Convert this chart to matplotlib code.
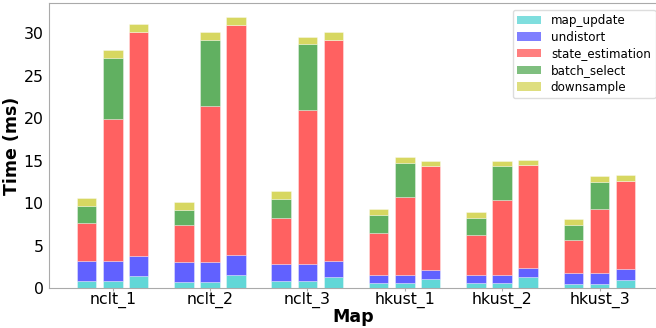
import numpy as np
import matplotlib
matplotlib.use('Agg')
import matplotlib.pyplot as plt
from matplotlib.patches import Patch

maps = ['nclt_1', 'nclt_2', 'nclt_3', 'hkust_1', 'hkust_2', 'hkust_3']
parts = ['map_update', 'undistort', 'state_estimation', 'batch_select', 'downsample']

# time per part (ms), three variants per map
map_update_a = [0.82, 0.75, 0.86, 0.55, 0.55, 0.50]
undistort_a = [2.38, 2.35, 1.96, 0.98, 0.98, 1.26]
state_estimation_a = [4.50, 4.27, 5.38, 4.97, 4.67, 3.94]
batch_select_a = [1.90, 1.83, 2.30, 2.10, 2.00, 1.70]
downsample_a = [0.95, 0.95, 0.90, 0.70, 0.70, 0.70]

map_update_b = [0.82, 0.75, 0.86, 0.55, 0.55, 0.50]
undistort_b = [2.38, 2.35, 1.96, 0.98, 0.98, 1.26]
state_estimation_b = [16.70, 18.30, 18.08, 9.22, 8.87, 7.54]
batch_select_b = [7.20, 7.80, 7.80, 3.95, 3.90, 3.20]
downsample_b = [0.90, 0.90, 0.80, 0.70, 0.60, 0.70]

map_update_c = [1.37, 1.53, 1.26, 1.10, 1.33, 1.00]
undistort_c = [2.39, 2.35, 1.92, 1.00, 0.97, 1.27]
state_estimation_c = [26.39, 27.12, 26.02, 12.20, 12.20, 10.33]
batch_select_c = [0, 0, 0, 0, 0, 0]
downsample_c = [0.95, 0.90, 0.90, 0.60, 0.60, 0.65]

variants = [
    [map_update_a, undistort_a, state_estimation_a, batch_select_a, downsample_a],
    [map_update_b, undistort_b, state_estimation_b, batch_select_b, downsample_b],
    [map_update_c, undistort_c, state_estimation_c, batch_select_c, downsample_c],
]
colors = ['c', 'b', 'r', 'g', 'y']

fig = plt.figure(figsize=(6.56, 3.28), dpi=100)
ax = fig.add_axes([49 / 656, 40 / 328, 1.003 - 49 / 656, 1 - 43.3 / 328])

x = np.arange(len(maps))
offsets = [-0.27, 0.0, 0.265]
width = 0.2

for off, data in zip(offsets, variants):
    bottom = np.zeros(len(maps))
    for vals, col in zip(data, colors):
        vals = np.array(vals)
        ax.bar(x + off, vals, width, bottom=bottom, color=col, alpha=0.62,
               edgecolor='white', linewidth=0.4)
        bottom += vals

ax.set_xlim(-0.655, 5.6)
ax.set_ylim(0, 33.5)
ax.set_xticks(x)
ax.set_xticklabels(maps, fontsize=11.3)
ax.set_yticks([0, 5, 10, 15, 20, 25, 30])
ax.tick_params(axis='y', labelsize=11.3, length=0, pad=4)
ax.tick_params(axis='x', length=2, color='#aaaaaa', pad=0.5)
for s in ax.spines.values():
    s.set_color('#aaaaaa')
ax.set_xlabel('Map', fontsize=12.5, fontweight='bold', labelpad=0)
ax.set_ylabel('Time (ms)', fontsize=12.5, fontweight='bold', labelpad=2)

handles = [Patch(facecolor=c, alpha=0.5) for c in colors]
ax.legend(handles, parts, loc='upper right', fontsize=8.6, labelspacing=0.3,
          bbox_to_anchor=(655.5 / 656, 1 - 9.5 / 328), bbox_transform=fig.transFigure,
          borderaxespad=0, handlelength=2.0, framealpha=1, edgecolor='#dddddd')

plt.savefig('out.png', dpi=100)
